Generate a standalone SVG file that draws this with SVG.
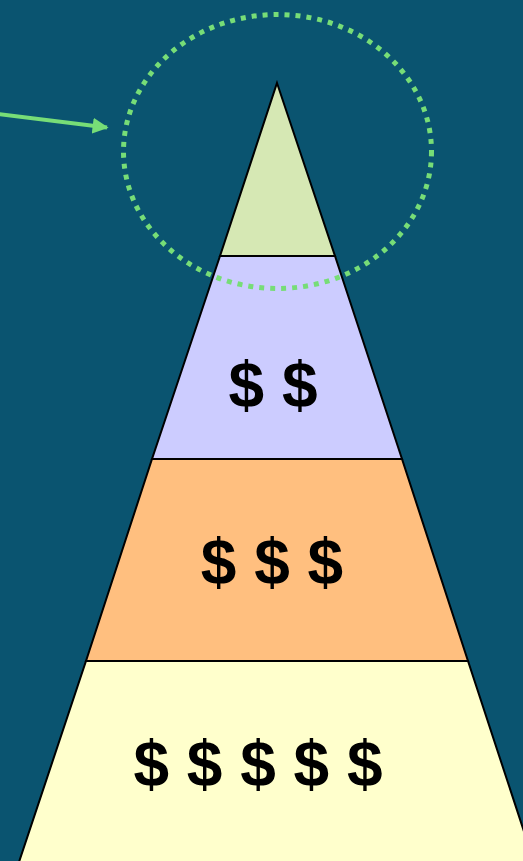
<svg xmlns="http://www.w3.org/2000/svg" width="523" height="861" viewBox="0 0 523 861">
<defs>
<style>
.tier{stroke:#000;stroke-width:2;stroke-linejoin:miter}
.dl{font-family:"Liberation Sans",Arial,sans-serif;font-weight:bold;font-size:64px;fill:#000;text-anchor:middle}
.hl{fill:none;stroke:#77DD77;stroke-width:5;stroke-dasharray:5 6}
</style>
<marker id="ah" viewBox="0 0 10 10" refX="9" refY="5" markerWidth="4" markerHeight="4" orient="auto" markerUnits="strokeWidth">
<path d="M0,0 L10,5 L0,10 z" fill="#77DD77"/>
</marker>
</defs>
<rect width="523" height="861" fill="#0A5470"/>
<g id="tier1"><polygon class="tier" points="277,83 335,256 220,256" fill="#D6E8B4"/></g>
<g id="tier2"><polygon class="tier" points="220,256 335,256 402,459 152,459" fill="#CCCCFF"/><text class="dl" x="273" y="407">$ $</text></g>
<g id="tier3"><polygon class="tier" points="152,459 402,459 468,661 86,661" fill="#FFBF7F"/><text class="dl" x="272" y="584">$ $ $</text></g>
<g id="tier4"><polygon class="tier" points="86,661 468,661 534,862 19,862" fill="#FFFFCC"/><text class="dl" x="258" y="786">$ $ $ $ $</text></g>
<g id="connectors">
<ellipse id="highlight" class="hl" cx="277.5" cy="151.5" rx="154" ry="137"/>
<line x1="-2" y1="114" x2="107" y2="127.5" stroke="#77DD77" stroke-width="4" marker-end="url(#ah)"/>
</g>
</svg>
